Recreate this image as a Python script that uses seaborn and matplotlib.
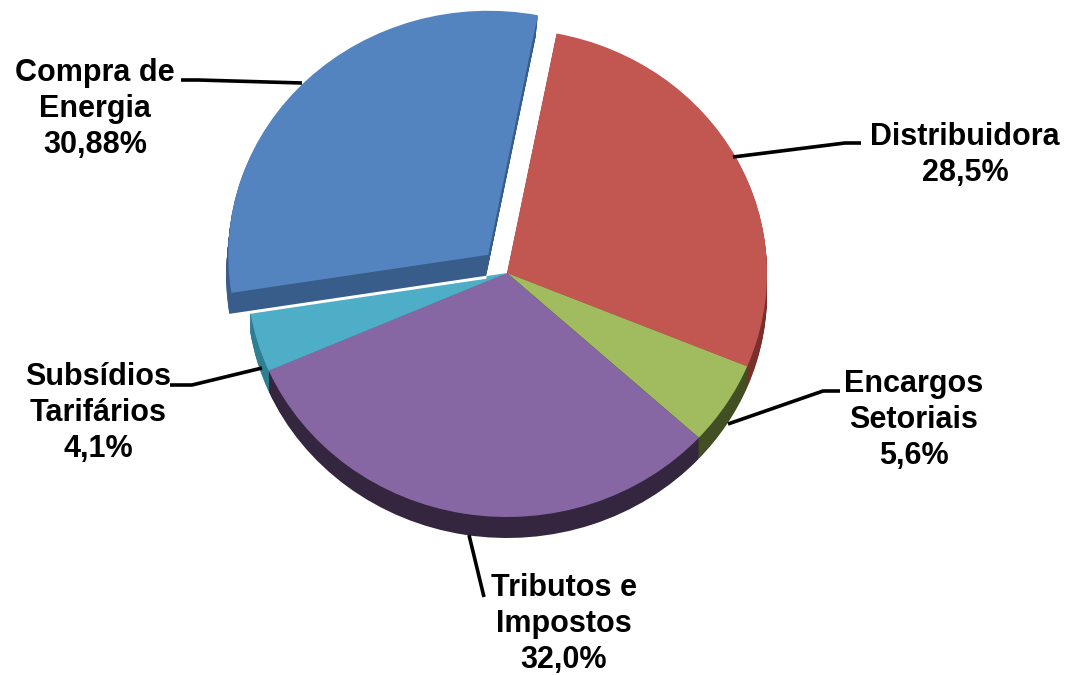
import matplotlib
matplotlib.use('Agg')
import matplotlib.pyplot as plt
import seaborn as sns

# clockwise from the top, starting at the red slice
categories = ['Distribuidora', 'Encargos\nSetoriais', 'Tributos e\nImpostos', 'Subsídios\nTarifários', 'Compra de\nEnergia']
shares = [28.5, 5.6, 32.0, 4.1, 30.88]
value_labels = ['28,5%', '5,6%', '32,0%', '4,1%', '30,88%']
top_colors = ['#C25752', '#A0BC5E', '#8767A3', '#4FAEC7', '#5484BF']
side_colors = ['#7A2F2D', '#414F22', '#35263F', '#2F7F92', '#385D8A']

sns.set_theme(style='white')
plt.rcParams['font.family'] = ['Liberation Sans', 'DejaVu Sans']

W, H = 1068, 675
CX, CY = 507, 273
RX, RY = 260, 244
DEPTH = 21
y_scale = RX / RY  # squash the circle into the tilted ellipse
START = 79

fig = plt.figure(figsize=(W / 100, H / 100), dpi=100)
ax = fig.add_axes([0, 0, 1, 1])


def to_data(y):
    return (H - y) * y_scale


def draw_pie(colors, dy, explode=None, dx=0):
    ax.pie(shares, radius=RX, center=(CX + dx, to_data(CY + dy)), startangle=START, counterclock=False,
           colors=colors, explode=explode, wedgeprops={'linewidth': 0})


# four slices that stay in place
rest_side = side_colors[:4] + ['none']
rest_top = top_colors[:4] + ['none']
for d in range(DEPTH, 0, -1):
    draw_pie(rest_side, d)
draw_pie(rest_top, 0)

# pulled out slice goes on top, white rim under its side
offset = [0, 0, 0, 0, 27]
only_blue_white = ['none'] * 4 + ['white']
only_blue_side = ['none'] * 4 + [side_colors[4]]
only_blue_top = ['none'] * 4 + [top_colors[4]]
draw_pie(only_blue_white, DEPTH + 3, offset, dx=-2)
for d in range(DEPTH, 0, -1):
    draw_pie(only_blue_side, d, offset, dx=-0.1 * d)
draw_pie(only_blue_top, 0, offset)

ax.set_aspect('auto')
ax.set_xlim(0, W)
ax.set_ylim(0, H * y_scale)
ax.axis('off')

# labels and leader lines in pixel coordinates
over = fig.add_axes([0, 0, 1, 1], facecolor='none')
over.set_xlim(0, W)
over.set_ylim(H, 0)
over.axis('off')

label_pos = [(965, 155), (914, 420), (564, 624), (98, 413), (95, 109)]
leaders = [
    ([861, 845, 733], [143, 143, 157]),
    ([840, 823, 728], [391, 391, 424]),
    ([484, 469], [597, 535]),
    ([170, 192, 262], [385, 385, 368]),
    ([181, 198, 302], [80, 80, 83]),
]

for cat, val, (x, y) in zip(categories, value_labels, label_pos):
    over.text(x, y, cat + '\n' + val, ha='center', va='center', fontsize=22, fontweight='bold',
              color='black', linespacing=1.27)
for xs, ys in leaders:
    over.plot(xs, ys, color='black', lw=2.6, solid_capstyle='butt')

fig.savefig('out.png', dpi=100)
